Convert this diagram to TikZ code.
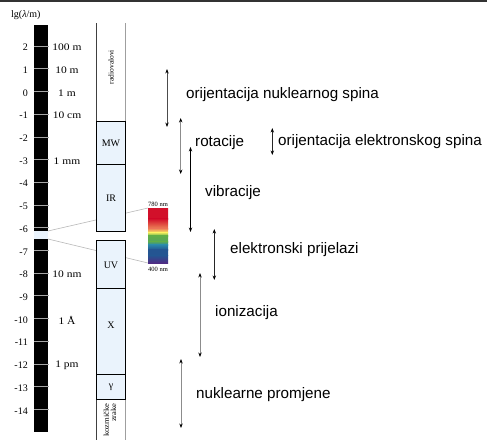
\documentclass[tikz,border=0pt]{standalone}
\usepackage{fontspec}
\setmainfont{Liberation Serif}
\newfontfamily\sansf{Liberation Sans}
\usetikzlibrary{arrows.meta}
\definecolor{boxblue}{HTML}{EAF3FC}
\definecolor{sred}{HTML}{D2102A}
\definecolor{sorange}{HTML}{EE8A5A}
\definecolor{syellow}{HTML}{F2EE60}
\definecolor{sgreen}{HTML}{5FAE48}
\definecolor{steal}{HTML}{2A86A8}
\definecolor{sblue}{HTML}{245592}
\definecolor{sviolet}{HTML}{4F2C84}
\tikzset{
  numlbl/.style={font=\fontsize{10}{10}\selectfont, inner sep=0pt},
  unitlbl/.style={font=\fontsize{10}{10}\selectfont, inner sep=0pt},
  boxlbl/.style={font=\fontsize{10}{10}\selectfont, inner sep=0pt},
  bandbox/.style={draw=black, fill=boxblue, line width=0.8pt},
  tickline/.style={gray!70, line width=0.6pt},
  guide/.style={gray!55, line width=0.6pt},
  proc/.style={font=\sansf\fontsize{15.2}{16}\selectfont, inner sep=0pt, anchor=west},
  dbl/.style={{Stealth[length=4.5pt,width=3.4pt,black]}-{Stealth[length=4.5pt,width=3.4pt,black]}, line width=0.9pt},
  small/.style={font=\fontsize{6.5}{7}\selectfont, inner sep=0pt}
}
\begin{document}
\begin{tikzpicture}[x=1pt,y=-1pt]
\useasboundingbox (0,0) rectangle (487,439);
\fill[white] (0,0) rectangle (487,439);
% top rule
\draw[black!80, line width=1.6pt] (0,1.2) -- (487,1.2);
% axis title
\node[numlbl, anchor=west] (title) at (11,15) {lg(\textit{λ}/m)};
% black scale bar
\fill[black] (34,25) rectangle (48,231);
\fill[boxblue] (34,231) rectangle (48,239);
\fill[black] (34,239) rectangle (48,432);
\foreach \v in {2,1,...,-14}{
  \pgfmathsetmacro\yy{46+(2-\v)*22.7}
  \pgfmathtruncatemacro\ii{2-\v}
  \draw[tickline] (34,\yy) -- (49,\yy);
  \node[numlbl, anchor=east] (n\ii) at (28,\yy+1.5) {\v};
}
% unit labels
\node[unitlbl] (u100m) at (67,47.5) {\scalebox{1.15}[1]{100 m}};
\node[unitlbl] (u10m) at (67,70.2) {\scalebox{1.15}[1]{10 m}};
\node[unitlbl] (u1m) at (67,92.9) {\scalebox{1.15}[1]{1 m}};
\node[unitlbl] (u10cm) at (67,115.6) {\scalebox{1.15}[1]{10 cm}};
\node[unitlbl] (u1mm) at (67,161) {\scalebox{1.15}[1]{1 mm}};
\node[unitlbl] (u10nm) at (67,274.5) {\scalebox{1.15}[1]{10 nm}};
\node[unitlbl] (u1A) at (67,319.9) {\scalebox{1.15}[1]{1 Å}};
\node[unitlbl] (u1pm) at (67,365.3) {\scalebox{1.15}[1]{1 pm}};
% guide lines from gap to spectrum
\coordinate (gapT) at (48,231);
\coordinate (gapB) at (48,239);
\coordinate (specT) at (148,208);
\coordinate (specB) at (148,263);
\draw[guide] (gapT) -- (specT);
\draw[guide] (gapB) -- (specB);
% radio waves column
\draw[black!75, line width=0.7pt] (96.5,23) -- (96.5,121.7);
\draw[gray!75, line width=1.5pt] (125.5,23) -- (125.5,121.7);
\node[rotate=90, font=\fontsize{7.5}{8}\selectfont, inner sep=0pt] (radio) at (111,67) {radiovalovi};
% bands
\draw[bandbox] (96.5,121.7) rectangle (125.5,164.3);
\node[boxlbl] (mw) at (111,143) {MW};
\draw[bandbox] (96.5,164.3) rectangle (125.5,231.5);
\node[boxlbl] (ir) at (111,198) {IR};
\draw[bandbox] (96.5,240) rectangle (125.5,288);
\node[boxlbl] (uv) at (111,265) {UV};
\draw[bandbox] (96.5,288) rectangle (125.5,374);
\node[boxlbl] (xr) at (111,325) {X};
\draw[bandbox] (96.5,374) rectangle (125.5,399.5);
\node[boxlbl] (gam) at (111,387) {γ};
% cosmic rays column
\draw[black!75, line width=0.7pt] (96.5,399.5) -- (96.5,440);
\draw[gray!75, line width=1.2pt] (125.5,399.5) -- (125.5,440);
\node[rotate=90, anchor=east, align=right, font=\fontsize{7.5}{7.3}\selectfont, inner sep=0pt] (cosmic) at (110,403) {\scalebox{1.15}[1]{kozmičke}\\\scalebox{1.15}[1]{zrake}};
% visible spectrum
\shade[top color=sred, bottom color=sred] (148,208) rectangle (168,219);
\shade[top color=sred, bottom color=sorange] (148,218.8) rectangle (168,229);
\shade[top color=sorange, bottom color=syellow] (148,228.8) rectangle (168,232.5);
\shade[top color=syellow, bottom color=sgreen] (148,232.3) rectangle (168,236);
\shade[top color=sgreen, bottom color=sgreen!80!steal] (148,235.8) rectangle (168,242);
\shade[top color=sgreen!80!steal, bottom color=steal] (148,241.8) rectangle (168,245);
\shade[top color=steal, bottom color=sblue] (148,244.8) rectangle (168,250);
\shade[top color=sblue, bottom color=sblue] (148,249.8) rectangle (168,255.5);
\shade[top color=sblue, bottom color=sviolet] (148,255.3) rectangle (168,263);
\node[small] (l780) at (158,204) {780 nm};
\node[small] (l400) at (158,269) {400 nm};
% process arrows
\coordinate (a1t) at (167,69);  \coordinate (a1b) at (167,127);
\coordinate (a2t) at (180.7,118); \coordinate (a2b) at (180.7,174);
\coordinate (a3t) at (190.5,147); \coordinate (a3b) at (190.5,232);
\coordinate (a4t) at (272.3,128); \coordinate (a4b) at (272.3,155);
\coordinate (a5t) at (214.3,229); \coordinate (a5b) at (214.3,280);
\coordinate (a6t) at (200,273); \coordinate (a6b) at (200,357);
\coordinate (a7t) at (181,359); \coordinate (a7b) at (181,428);
\draw[dbl, black!70] (a1t) -- (a1b);
\draw[dbl, black!45] (a2t) -- (a2b);
\draw[dbl, black] (a3t) -- (a3b);
\draw[dbl, black!85] (a4t) -- (a4b);
\draw[dbl, black!85] (a5t) -- (a5b);
\draw[dbl, black!45] (a6t) -- (a6b);
\draw[dbl, black!45] (a7t) -- (a7b);
\node[proc] (p1) at (186,95) {orijentacija nuklearnog spina};
\node[proc] (p2) at (195,143) {rotacije};
\node[proc] (p3) at (205,193) {vibracije};
\node[proc] (p4) at (278,142) {orijentacija elektronskog spina};
\node[proc] (p5) at (230,250) {elektronski prijelazi};
\node[proc] (p6) at (215,313) {ionizacija};
\node[proc] (p7) at (196,395) {nuklearne promjene};
\end{tikzpicture}
\end{document}
